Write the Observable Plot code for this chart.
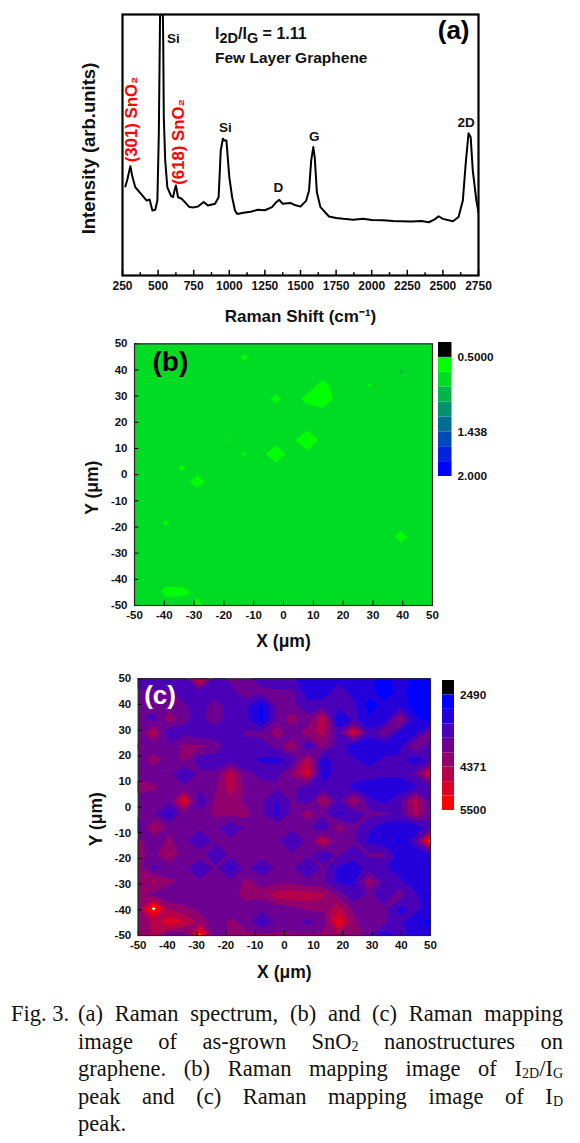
<!DOCTYPE html>
<html><head><meta charset="utf-8">
<script src="https://cdn.jsdelivr.net/npm/d3@7"></script>
<script src="https://cdn.jsdelivr.net/npm/@observablehq/plot@0.6"></script>
<style>
html,body{margin:0;padding:0;background:#fff}
#page{position:relative;width:580px;height:1143px;overflow:hidden;font-family:"Liberation Sans",Arial,sans-serif}
#page>svg,#page>div.p{position:absolute}
.ratio{position:absolute;left:215px;top:25px;font-weight:bold;font-size:16px;color:#111;white-space:nowrap}
.ratio sub{font-size:14.5px;line-height:0}
.cap{position:absolute;left:0;top:1000px;width:580px;font-family:"Liberation Serif",serif;font-size:22.5px;line-height:27.5px;color:#111}
.cap div{position:absolute;left:78px;width:485px;text-align:justify;text-align-last:justify;white-space:nowrap}
.cap div.last{text-align-last:left}
.cap div.fig{left:11px;width:60px;text-align-last:left}
.cap sub{font-size:14px;line-height:0;vertical-align:-2px}
</style></head><body><div id="page"></div>
<script>
// ---------- panel (a): Raman spectrum ----------
const ramanShift = [270,285,305,320,340,380,420,440,460,480,495,505,512,516,530,536,540,550,565,590,605,615,625,640,665,690,720,750,780,820,850,900,925,940,955,965,980,1000,1020,1040,1055,1100,1150,1200,1250,1300,1330,1350,1375,1430,1460,1500,1540,1560,1575,1590,1600,1615,1640,1700,1750,1800,1870,1940,2000,2080,2150,2200,2280,2350,2400,2440,2470,2500,2570,2610,2640,2660,2680,2695,2710,2735,2750];
const intensity = [34.1,37,41.9,37.7,33.8,31.3,28.7,29.1,24.9,25.2,28.7,54,90,112,112,90,60.7,44,33.8,30.6,30,32.6,34.5,30,29.4,28,26.2,26.1,26.4,28.2,26.8,27.5,30,47.9,52.4,51.7,51.7,37.7,30,24.9,23.6,24,24.4,25.2,25,26.2,28.1,29,27.5,27.8,27,26.4,28.7,32.6,44,49.2,45.3,31.9,26.2,22.6,22,21.7,21.4,21.7,21.3,21.2,20.9,20.8,20.7,20.9,20.4,21.4,22.7,21.7,20.8,22.4,28.7,42.8,54.5,53,40.2,28.7,24.3];
const peakNames = ["Si","Si","D","G","2D"];
const peakX = [608,973,1345,1596,2663];
const peakY = [90.7,56.8,33.6,53.3,58.5];
const sno2Names = ["(301) SnO₂","(618) SnO₂"];
const sno2X = [316,643];
const sno2Y = [59.8,51.2];
const ramanMajor = [250,500,750,1000,1250,1500,1750,2000,2250,2500,2750];
const ramanMinor = [375,625,875,1125,1375,1625,1875,2125,2375,2625];

// ---------- shared map axes ----------
const mapTicks = [-50,-40,-30,-20,-10,0,10,20,30,40,50];

// ---------- panel (b): I2D/IG map, 20 x 20 samples, top row first ----------
const ratioRow00 = [.8,.8,.8,.8,.8,.8,.8,.8,.8,.8,.8,.8,.8,.8,.8,.8,.8,.8,.8,.8];
const ratioRow01 = [.8,.8,.8,.8,.8,.8,.8,.65,.8,.8,.8,.8,.8,.8,.8,.8,.8,.8,.8,.8];
const ratioRow02 = [.8,.8,.8,.8,.8,.8,.8,.8,.8,.8,.8,.8,.8,.8,.8,.8,.8,.89,.8,.8];
const ratioRow03 = [.8,.8,.8,.8,.8,.8,.8,.8,.8,.8,.8,.8,.62,.8,.8,.67,.8,.8,.8,.8];
const ratioRow04 = [.8,.8,.8,.8,.8,.8,.8,.8,.8,.63,.8,.62,.48,.8,.8,.8,.8,.8,.8,.8];
const ratioRow05 = [.8,.8,.8,.8,.8,.8,.8,.8,.8,.8,.8,.8,.8,.8,.8,.8,.8,.8,.8,.8];
const ratioRow06 = [.8,.8,.8,.8,.8,.8,.8,.8,.8,.8,.8,.8,.8,.8,.8,.8,.8,.8,.8,.8];
const ratioRow07 = [.8,.8,.8,.8,.8,.8,.675,.8,.8,.8,.8,.38,.8,.8,.8,.8,.8,.8,.8,.8];
const ratioRow08 = [.8,.8,.8,.8,.8,.8,.8,.667,.8,.5,.8,.8,.8,.8,.8,.8,.8,.8,.8,.8];
const ratioRow09 = [.8,.8,.8,.655,.8,.8,.8,.8,.8,.8,.8,.8,.8,.8,.8,.8,.8,.8,.8,.8];
const ratioRow10 = [.8,.8,.8,.8,.59,.8,.8,.8,.8,.8,.8,.8,.8,.8,.8,.8,.8,.8,.8,.8];
const ratioRow11 = [.8,.8,.8,.8,.8,.8,.8,.8,.8,.8,.8,.8,.8,.8,.8,.8,.8,.8,.8,.8];
const ratioRow12 = [.8,.8,.8,.8,.8,.8,.8,.8,.8,.8,.8,.8,.8,.8,.8,.8,.8,.8,.8,.8];
const ratioRow13 = [.8,.8,.66,.8,.8,.8,.8,.8,.8,.8,.8,.8,.8,.8,.8,.8,.8,.8,.8,.8];
const ratioRow14 = [.8,.8,.8,.8,.8,.8,.8,.8,.8,.8,.8,.8,.8,.8,.8,.8,.8,.61,.8,.8];
const ratioRow15 = [.8,.8,.8,.8,.8,.8,.8,.8,.8,.8,.8,.8,.8,.8,.8,.8,.8,.8,.8,.8];
const ratioRow16 = [.8,.8,.8,.8,.8,.8,.8,.8,.8,.8,.8,.8,.8,.8,.8,.8,.8,.8,.8,.8];
const ratioRow17 = [.8,.8,.8,.8,.8,.8,.8,.8,.8,.8,.8,.8,.8,.8,.8,.8,.8,.8,.8,.8];
const ratioRow18 = [.8,.8,.63,.63,.72,.8,.8,.8,.8,.8,.8,.8,.8,.8,.8,.8,.8,.8,.8,.8];
const ratioRow19 = [.8,.8,.8,.8,.64,.8,.8,.8,.8,.8,.8,.8,.8,.8,.8,.8,.8,.8,.8,.8];
const ratioRows = [ratioRow00,ratioRow01,ratioRow02,ratioRow03,ratioRow04,ratioRow05,ratioRow06,ratioRow07,ratioRow08,ratioRow09,ratioRow10,ratioRow11,ratioRow12,ratioRow13,ratioRow14,ratioRow15,ratioRow16,ratioRow17,ratioRow18,ratioRow19];
const ratioEdges = [0.3125,0.5,0.6875,0.875,1.0625,1.25,1.4375,1.625,1.8125,2.0];
const ratioColors = ["#000000","#00ff00","#00db24","#00b649","#00926d","#006d92","#0049b6","#0024db","#0000ff"];
const ratioLabels = ["0.5000","1.438","2.000"];
const ratioLabelValues = [0.5,1.4375,2.0];

// ---------- panel (c): ID map, 20 x 20 samples, top row first ----------
const idRow00 = [3340,3340,3340,3340,4940,3340,3700,3700,3480,3340,3340,2980,2980,3110,3110,2980,2680,3110,2680,2680];
const idRow01 = [3700,3700,3700,3340,3480,3340,3480,3880,3700,3700,3700,2980,2980,3480,3110,2980,2680,2980,2680,2680];
const idRow02 = [3700,3700,3880,3700,3340,3880,3340,3340,2790,3700,3700,3480,3480,3340,3340,2680,2980,3110,2680,2680];
const idRow03 = [3700,3480,4250,3700,3480,3880,3340,3340,2750,3700,4250,3700,4750,2750,3340,2980,2980,4250,2980,2680];
const idRow04 = [3700,4620,3210,3480,3340,3340,3340,3700,3700,4250,3700,4250,4450,3480,4940,3340,3880,3110,3110,3880];
const idRow05 = [4090,3700,3700,4090,4090,3880,3340,3340,3480,3700,4450,3110,4090,3480,2790,2980,2980,3110,4090,3340];
const idRow06 = [3700,4250,3730,4090,3340,3340,3340,3340,3170,3130,3340,4620,2980,3480,3340,2980,3340,3340,2980,3340];
const idRow07 = [3700,3700,3700,3210,3700,3700,4620,3700,3540,3480,4090,4940,2980,3480,3480,3480,3340,3340,3700,4940];
const idRow08 = [4250,4090,3700,3700,3700,3880,4620,3880,3700,3700,3700,3480,3340,3480,3110,2980,2980,2980,3170,3480];
const idRow09 = [3700,3700,3700,5120,3210,4090,4250,3880,3700,3200,3700,3340,4450,3480,4450,3340,3110,3480,4620,3480];
const idRow10 = [3700,3700,3050,3880,3700,4090,4090,4110,3700,3150,3700,4250,3700,3170,3340,3700,3700,3480,4450,3700];
const idRow11 = [3340,4450,3920,3700,3700,3700,3340,3700,3700,3880,3700,3700,3170,4250,3700,3340,2980,2980,2940,3480];
const idRow12 = [4090,3700,4090,3700,3210,3700,3700,3700,3700,3700,3210,3700,4750,3700,3700,3130,2980,2830,3480,5690];
const idRow13 = [4090,3880,4450,3730,3880,3230,3700,3880,3880,3700,3700,3700,3190,3700,3340,3700,3730,2980,2980,3170];
const idRow14 = [4090,3510,3700,3700,3210,3700,3100,3770,3180,3700,3700,3180,3700,3170,3130,3340,3320,2980,2980,2980];
const idRow15 = [4090,4450,4090,3880,3700,3700,3700,4090,3880,3880,3880,3700,3700,3170,3170,4300,3480,3340,2980,2980];
const idRow16 = [4090,3880,3700,3700,3700,3700,3730,4250,4110,4620,4620,4620,4450,3880,3340,3700,3340,3880,3340,2790];
const idRow17 = [4110,5690,4250,4090,3880,3690,3700,3700,3700,3700,3880,4090,4090,4620,3880,3700,3700,3110,3340,3110];
const idRow18 = [4110,4450,5120,4750,4250,3730,4090,3880,3180,3700,3700,3510,3730,5240,4090,3700,3700,3340,2980,2750];
const idRow19 = [4090,4450,3690,3690,5690,3690,4090,4090,4090,4090,4090,4090,4090,4250,4250,3700,2980,3340,3110,2980];
const idRows = [idRow00,idRow01,idRow02,idRow03,idRow04,idRow05,idRow06,idRow07,idRow08,idRow09,idRow10,idRow11,idRow12,idRow13,idRow14,idRow15,idRow16,idRow17,idRow18,idRow19];
const idEdges = [2114,2490,2866,3243,3619,3995,4371,4748,5124,5500];
const idColors = ["#000000","#0000ff","#2400db","#4900b6","#6d0092","#92006d","#b60049","#db0024","#ff0000"];
const idLabels = ["2490","4371","5500"];
const idLabelValues = [2490,4371,5500];

// ---------- drawing ----------
const page = document.getElementById("page");
const sans = '"Liberation Sans",Arial,sans-serif';
function place(svg, left, top){ svg.style.left = left+"px"; svg.style.top = top+"px"; page.appendChild(svg); return svg; }
const baseStyle = {fontFamily:sans, fontWeight:"bold", fontSize:"11.5px", background:"transparent", color:"#111", overflow:"visible"};

// panel a
place(Plot.plot({
  width:580, height:330, marginLeft:122, marginRight:102, marginTop:14, marginBottom:55,
  style:{...baseStyle, fontSize:"12px"},
  x:{domain:[250,2750], axis:null}, y:{domain:[0,100], axis:null},
  marks:[
    Plot.ruleX(ramanMajor,{x:d=>d, y1:0, y2:2, stroke:"#000", strokeWidth:1.5}),
    Plot.ruleX(ramanMinor,{x:d=>d, y1:0, y2:1.1, stroke:"#000", strokeWidth:1.5}),
    Plot.axisX({anchor:"bottom", ticks:ramanMajor, tickSize:0, tickPadding:6, tickFormat:d=>String(d), label:null}),
    Plot.lineY(intensity,{x:ramanShift, y:d=>d, stroke:"#000", strokeWidth:2, clip:true}),
    Plot.text(peakNames,{x:peakX, y:peakY, text:d=>d, fontSize:13.5, fontWeight:"bold", fill:"#111"}),
    Plot.text(sno2Names,{x:sno2X, y:sno2Y, text:d=>d, rotate:-90, fontSize:16.8, fontWeight:"bold", fill:"#ff0000"}),
    Plot.frame({stroke:"#000", strokeWidth:2.2}),
    Plot.text(["(a)"],{frameAnchor:"top-right", dx:-9, dy:6, fontSize:26, fontWeight:"bold", fill:"#000"}),
    Plot.text(["Raman Shift (cm⁻¹)"],{frameAnchor:"bottom", dx:0, dy:41, fontSize:17, fontWeight:"bold", fill:"#111", lineAnchor:"middle"}),
    Plot.text(["Intensity (arb.units)"],{frameAnchor:"left", dx:-33, dy:3.5, rotate:-90, textAnchor:"middle", fontSize:18.5, fontWeight:"bold", fill:"#111"})
  ]
}),0,0);

const ratio = document.createElement("div");
ratio.className = "ratio";
ratio.innerHTML = 'I<sub>2D</sub>/I<sub>G</sub> = 1.11<div style="margin-top:6px;font-size:15.5px">Few Layer Graphene</div>';
page.appendChild(ratio);

function mapPanel({rows, edges, colors, bg, top, height, left, right, mT, mB, label, labelColor, labelDx, labelDy, labelSize, xDy, yDx, yDy}){
  // The most common band (bg) is the backdrop; lower bands are traced on the negated value and
  // higher bands on the value itself, so both minima and maxima stay separate at saddles.
  const lowT = edges.slice(2, bg+1).map(e=>-e).reverse();
  const highT = edges.slice(bg+1);
  const lowC = colors.slice(1, bg).reverse();
  const highC = [...colors.slice(bg+1), "#ffffff"];
  const flat = rows.flat();
  const half = 100/19/2;
  const common = {fill:"value", width:20, height:20, x1:-50-half, x2:50+half, y1:50+half, y2:-50-half, clip:true};
  place(Plot.plot({
    width:580, height, marginLeft:left, marginRight:right, marginTop:mT, marginBottom:mB,
    style:baseStyle,
    x:{domain:[-50,50], axis:null}, y:{domain:[-50,50], axis:null},
    color:{type:"threshold", domain:[...lowT, ...highT], range:[colors[bg], ...lowC, ...highC]},
    marks:[
      Plot.frame({fill:colors[bg], stroke:"none"}),
      Plot.contour(flat,{...common, value:d=>-d, thresholds:lowT}),
      Plot.contour(flat,{...common, value:d=>d, thresholds:highT}),
      Plot.ruleX(mapTicks,{x:d=>d, y1:-50, y2:-48.3, stroke:"#000"}),
      Plot.ruleY(mapTicks,{y:d=>d, x1:-50, x2:-48.5, stroke:"#000"}),
      Plot.axisX({anchor:"bottom", ticks:mapTicks, tickSize:0, tickPadding:5, tickFormat:d=>String(d), label:null}),
      Plot.axisY({anchor:"left", ticks:mapTicks, tickSize:0, tickPadding:7, tickFormat:d=>String(d), label:null}),
      Plot.frame({stroke:"#222", strokeWidth:1.2}),
      Plot.text([label],{frameAnchor:"top-left", dx:labelDx, dy:labelDy, fontSize:labelSize, fontWeight:"bold", fill:labelColor}),
      Plot.text(["X (μm)"],{frameAnchor:"bottom", dy:xDy, fontSize:17.5, fontWeight:"bold", fill:"#111"}),
      Plot.text(["Y (μm)"],{frameAnchor:"left", dx:yDx, dy:yDy, rotate:-90, textAnchor:"middle", fontSize:17.5, fontWeight:"bold", fill:"#111"})
    ]
  }),0,top);
}

function legendPanel({edges, colors, labels, labelValues, left, top, height, barWidth}){
  place(Plot.plot({
    width:150, height, marginLeft:8, marginRight:150-8-barWidth, marginTop:10, marginBottom:10,
    style:{...baseStyle, fontSize:"11.8px"},
    x:{domain:[0,1], axis:null}, y:{domain:[edges[edges.length-1], edges[0]], axis:null},
    marks:[
      Plot.rect(colors,{x1:0, x2:1, y1:(d,i)=>edges[i], y2:(d,i)=>edges[i+1], fill:d=>d}),
      Plot.text(labels,{x:1, y:labelValues, dx:5.5, text:d=>d, textAnchor:"start", fontSize:11.8, fontWeight:"bold", fill:"#111"})
    ]
  }),left,top);
}

mapPanel({rows:ratioRows, edges:ratioEdges, colors:ratioColors, bg:2, top:330, height:330, left:134, right:148, mT:13.3, mB:55,
  label:"(b)", labelColor:"#000", labelDx:18, labelDy:7, labelSize:28, xDy:41.5, yDx:-42, yDy:13});
legendPanel({edges:ratioEdges, colors:ratioColors, labels:ratioLabels, labelValues:ratioLabelValues, left:430, top:331.7, height:154, barWidth:13.5});

mapPanel({rows:idRows, edges:idEdges, colors:idColors, bg:4, top:665, height:320, left:137.7, right:150, mT:13.3, mB:50,
  label:"(c)", labelColor:"#fff", labelDx:6, labelDy:7, labelSize:26, xDy:42, yDx:-42, yDy:12});
legendPanel({edges:idEdges, colors:idColors, labels:idLabels, labelValues:idLabelValues, left:434, top:670, height:150, barWidth:12});

// caption
const cap = document.createElement("div");
cap.className = "cap";
const capLines = [
  "(a) Raman spectrum, (b) and (c) Raman mapping",
  "image of as-grown SnO<sub>2</sub> nanostructures on",
  "graphene. (b) Raman mapping image of I<sub>2D</sub>/I<sub>G</sub>",
  "peak and (c) Raman mapping image of I<sub>D</sub>",
  "peak."
];
cap.innerHTML = '<div class="fig" style="top:0">Fig. 3.</div>' + capLines.map((t,i)=>
  `<div class="${i===capLines.length-1?"last":""}" style="top:${i*27.5}px">${t}</div>`).join("");
page.appendChild(cap);
</script></body></html>
